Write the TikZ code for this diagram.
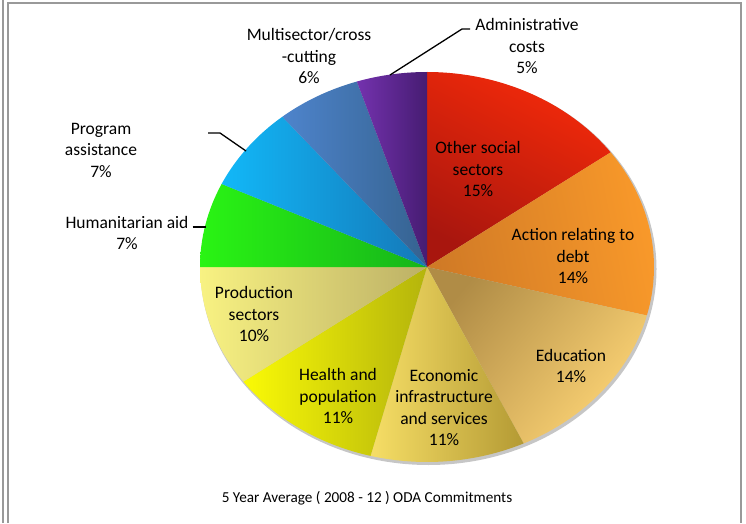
\documentclass[tikz,border=0pt]{standalone}
\usepackage{fontspec}
\setmainfont{Carlito}
\usetikzlibrary{calc}

\definecolor{redo}{HTML}{F42A0A}
\definecolor{redi}{HTML}{A8160E}
\definecolor{orno}{HTML}{FA9A2A}
\definecolor{orni}{HTML}{D07A26}
\definecolor{eduo}{HTML}{FDD475}
\definecolor{edui}{HTML}{B08C46}
\definecolor{ecoo}{HTML}{F6DE66}
\definecolor{ecoi}{HTML}{B49A34}
\definecolor{heao}{HTML}{FAFA06}
\definecolor{heai}{HTML}{B4B40C}
\definecolor{proo}{HTML}{F8F282}
\definecolor{proi}{HTML}{BCB066}
\definecolor{grno}{HTML}{2AF414}
\definecolor{grni}{HTML}{16B41A}
\definecolor{bluo}{HTML}{12B8F8}
\definecolor{blui}{HTML}{1478B8}
\definecolor{stlo}{HTML}{4E84CC}
\definecolor{stli}{HTML}{35628F}
\definecolor{puro}{HTML}{7432AE}
\definecolor{puri}{HTML}{461C72}

\tikzset{
  lbl/.style={align=center, inner sep=0pt, font=\fontsize{17.5}{21.5}\selectfont},
  lead/.style={line width=1.3pt, color=black},
  frame/.style={line width=2pt, color=gray!80},
}

\begin{document}
\begin{tikzpicture}[x=1pt,y=1pt]
	\useasboundingbox (0,0) rectangle (746,523);
	
	%frame
	\draw[frame] (3.3,0) -- (3.3,523);
	\draw[frame] (7.5,0) -- (7.5,519.7) -- (741,519.7) -- (741,0);
	
	%pie
	\coordinate (c) at (427,256);
	\fill[gray!45] ($(c)+(1.5,-2)$) ellipse [x radius=228, y radius=196];
	\shade[top color=redo, bottom color=redi, shading angle=-27] (c) -- ++({227*cos(36)},{195*sin(36)}) arc[start angle=36, end angle=90, x radius=227, y radius=195] -- cycle;
	\shade[top color=orno, bottom color=orni, shading angle=-79] (c) -- ++({227*cos(-14.4)},{195*sin(-14.4)}) arc[start angle=-14.4, end angle=36, x radius=227, y radius=195] -- cycle;
	\shade[top color=eduo, bottom color=edui, shading angle=-130] (c) -- ++({227*cos(-64.8)},{195*sin(-64.8)}) arc[start angle=-64.8, end angle=-14.4, x radius=227, y radius=195] -- cycle;
	\shade[left color=ecoo, right color=ecoi] (c) -- ++({227*cos(-104.4)},{195*sin(-104.4)}) arc[start angle=-104.4, end angle=-64.8, x radius=227, y radius=195] -- cycle;
	\shade[left color=heao, right color=heai] (c) -- ++({227*cos(-144)},{195*sin(-144)}) arc[start angle=-144, end angle=-104.4, x radius=227, y radius=195] -- cycle;
	\shade[left color=proo, right color=proi] (c) -- ++({227*cos(-180)},{195*sin(-180)}) arc[start angle=-180, end angle=-144, x radius=227, y radius=195] -- cycle;
	\shade[left color=grno, right color=grni] (c) -- ++({227*cos(154.8)},{195*sin(154.8)}) arc[start angle=154.8, end angle=180, x radius=227, y radius=195] -- cycle;
	\shade[left color=bluo, right color=blui] (c) -- ++({227*cos(129.6)},{195*sin(129.6)}) arc[start angle=129.6, end angle=154.8, x radius=227, y radius=195] -- cycle;
	\shade[left color=stlo, right color=stli] (c) -- ++({227*cos(108)},{195*sin(108)}) arc[start angle=108, end angle=129.6, x radius=227, y radius=195] -- cycle;
	\shade[left color=puro, right color=puri] (c) -- ++({227*cos(90)},{195*sin(90)}) arc[start angle=90, end angle=108, x radius=227, y radius=195] -- cycle;
	
	%labels
	\node[lbl] (other) at (478,354) {Other social\\sectors\\15\%};
	\node[lbl] (debt) at (573,267) {Action relating to\\debt\\14\%};
	\node[lbl] (edu) at (571,157) {Education\\14\%};
	\node[lbl] (econ) at (444,115.5) {Economic\\infrastructure\\and services\\11\%};
	\node[lbl] (health) at (338,127) {Health and\\population\\11\%};
	\node[lbl] (prod) at (254,209) {Production\\sectors\\10\%};
	\node[lbl] (human) at (127,290) {Humanitarian aid\\7\%};
	\node[lbl] (prog) at (101,373) {Program\\assistance\\7\%};
	\node[lbl] (multi) at (309,467) {Multisector/cross\\-cutting\\6\%};
	\node[lbl] (admin) at (527,477) {Administrative\\costs\\5\%};
	\node[font=\fontsize{15.2}{18}\selectfont] (title) at (367,25) {5 Year Average ( 2008 - 12 ) ODA Commitments};
	
	%leaders
	\coordinate (adminpt) at (390,448);
	\coordinate (adminknee) at (462,494);
	\draw[lead, shorten >=5pt] (adminpt) -- (adminknee) -- (admin.west |- adminknee);
	\coordinate (progpt) at (246,372);
	\coordinate (progknee) at (220,390);
	\coordinate (progend) at (208,390);
	\draw[lead] (progpt) -- (progknee) -- (progend);
	\coordinate (humpt) at (206,296);
	\draw[lead, shorten <=4pt] (human.east |- humpt) -- (humpt);
\end{tikzpicture}
\end{document}
